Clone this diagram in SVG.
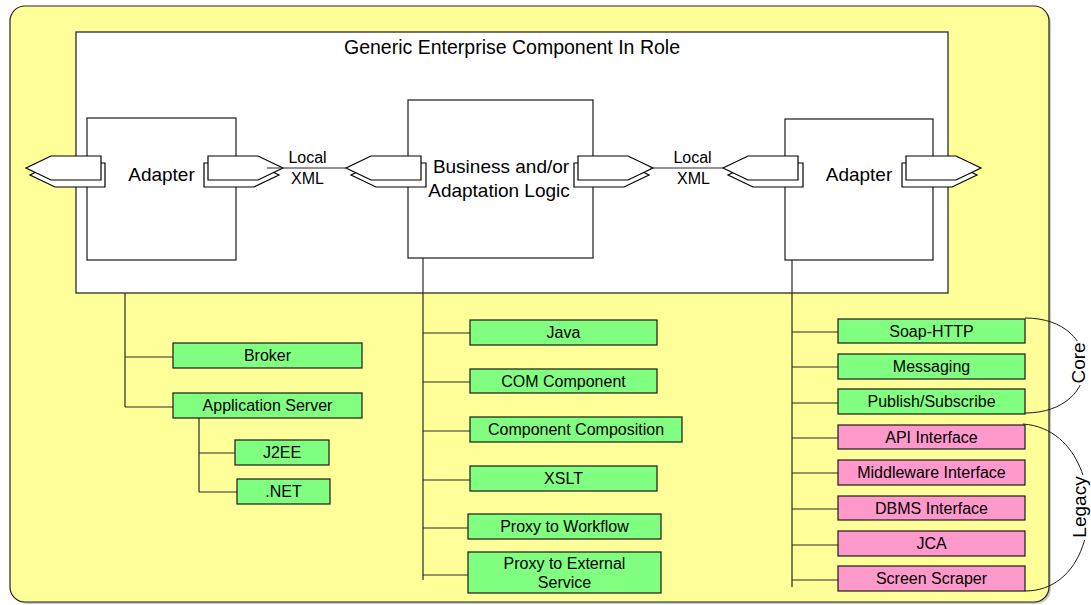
<svg xmlns="http://www.w3.org/2000/svg" width="1091" height="605" viewBox="0 0 1091 605">
  <style>
    text { font-family: "Liberation Sans", Arial, sans-serif; fill: #000; }
    .lbl { font-size: 16px; text-anchor: middle; }
    .big { font-size: 19px; text-anchor: middle; }
    .box { stroke: #1a1a1a; stroke-width: 1.2; }
    .green { fill: #80FF80; }
    .pink { fill: #FF99CC; }
    .white { fill: #fff; stroke: #1a1a1a; stroke-width: 1.2; }
    .port { fill: #fff; stroke: #000; stroke-width: 1.2; stroke-linejoin: miter; }
    .wire { stroke: #2a2a2a; stroke-width: 1.2; fill: none; }
    .brace { stroke: #1a1a1a; stroke-width: 1; fill: none; }
  </style>
  <defs>
    <!-- socket shapes: pointing right / pointing left -->
    <path id="portR" d="M0,0 H50 L75,12 L50,24 H0 Z"/>
    <path id="portL" d="M75,0 H25 L0,12 L25,24 H75 Z"/>
  </defs>

  <!-- background panel -->
  <rect x="12" y="8" width="1039" height="596" rx="15" fill="#c8c8c8"/>
  <rect x="10" y="6" width="1039" height="596" rx="15" fill="#FFFF99" stroke="#222" stroke-width="1.2"/>

  <!-- enclosing component -->
  <g id="component">
    <rect class="white" x="76" y="32" width="872" height="261"/>
    <text x="512" y="54" style="font-size:19.5px;text-anchor:middle">Generic Enterprise Component In Role</text>
  </g>

  <!-- connectors -->
  <g id="connectors">
    <!-- left adapter tree -->
    <path class="wire" d="M125,293 V407 M125,357 H173 M125,407 H173"/>
    <path class="wire" d="M199,418 V492 M199,453 H235 M199,492 H237"/>
    <!-- logic tree -->
    <path class="wire" d="M423,258 V580 M423,333 H470 M423,382 H470 M423,431 H470 M423,480 H470 M423,528 H468 M423,575 H468"/>
    <!-- right adapter tree -->
    <path class="wire" d="M792,260 V587 M792,332 H838 M792,367 H838 M792,403 H838 M792,438 H838 M792,473 H838 M792,509 H838 M792,545 H838 M792,580 H838"/>
    <!-- group braces -->
    <path class="brace" d="M1025,318 C1105,318 1105,413 1025,413"/>
    <path class="brace" d="M1023,424 C1110,430 1110,591 1025,591"/>
  </g>

  <g id="adapter-left">
    <rect class="white" x="87" y="118" width="149" height="142"/>
    <use href="#portL" class="port" transform="translate(30,163)"/>
    <use href="#portL" class="port" transform="translate(26,156)"/>
    <use href="#portR" class="port" transform="translate(204,163)"/>
    <use href="#portR" class="port" transform="translate(208,156)"/>
    <text class="big" x="161.5" y="181">Adapter</text>
  </g>

  <g id="logic">
    <rect class="white" x="408" y="100" width="185" height="158"/>
    <use href="#portL" class="port" transform="translate(351,163)"/>
    <use href="#portL" class="port" transform="translate(346,156)"/>
    <use href="#portR" class="port" transform="translate(574,163)"/>
    <use href="#portR" class="port" transform="translate(578,156)"/>
    <text class="big" x="501" y="173">Business and/or</text>
    <text class="big" x="499" y="197">Adaptation Logic</text>
  </g>

  <g id="adapter-right">
    <rect class="white" x="785" y="119" width="148" height="141"/>
    <use href="#portL" class="port" transform="translate(728,163)"/>
    <use href="#portL" class="port" transform="translate(723,156)"/>
    <use href="#portR" class="port" transform="translate(902,163)"/>
    <use href="#portR" class="port" transform="translate(906,156)"/>
    <text class="big" x="859" y="181">Adapter</text>
  </g>

  <!-- local XML links -->
  <g id="links">
    <path class="wire" d="M267,168 H346 M650,168 H723" stroke="#000"/>
    <text class="lbl" x="307.5" y="163">Local</text>
    <text class="lbl" x="307.5" y="184">XML</text>
    <text class="lbl" x="692.5" y="163">Local</text>
    <text class="lbl" x="693.5" y="184">XML</text>
  </g>

  <g id="broker"><rect class="box green" x="173" y="343" width="189" height="25"/><text class="lbl" x="267.5" y="361">Broker</text></g>
  <g id="app-server"><rect class="box green" x="173" y="393" width="189" height="25"/><text class="lbl" x="267.5" y="411">Application Server</text></g>
  <g id="j2ee"><rect class="box green" x="235" y="440" width="94" height="25"/><text class="lbl" x="282" y="458">J2EE</text></g>
  <g id="dotnet"><rect class="box green" x="237" y="479" width="93" height="25"/><text class="lbl" x="283.5" y="497">.NET</text></g>

  <g id="java"><rect class="box green" x="470" y="320" width="187" height="25"/><text class="lbl" x="563.5" y="338">Java</text></g>
  <g id="com"><rect class="box green" x="470" y="369" width="187" height="24"/><text class="lbl" x="563.5" y="386.5">COM Component</text></g>
  <g id="composition"><rect class="box green" x="470" y="417" width="212" height="25"/><text class="lbl" x="576" y="435">Component Composition</text></g>
  <g id="xslt"><rect class="box green" x="470" y="466" width="187" height="25"/><text class="lbl" x="563.5" y="484">XSLT</text></g>
  <g id="proxy-workflow"><rect class="box green" x="468" y="514" width="193" height="25"/><text class="lbl" x="564.5" y="532">Proxy to Workflow</text></g>
  <g id="proxy-external"><rect class="box green" x="468" y="552" width="193" height="41"/><text class="lbl" x="564.5" y="569">Proxy to External</text><text class="lbl" x="564.5" y="588">Service</text></g>

  <g id="soap"><rect class="box green" x="838" y="319" width="187" height="24"/><text class="lbl" x="931.5" y="336.5">Soap-HTTP</text></g>
  <g id="messaging"><rect class="box green" x="838" y="354" width="187" height="25"/><text class="lbl" x="931.5" y="372">Messaging</text></g>
  <g id="pubsub"><rect class="box green" x="838" y="389" width="187" height="25"/><text class="lbl" x="931.5" y="407">Publish/Subscribe</text></g>
  <g id="api"><rect class="box pink" x="838" y="425" width="187" height="24"/><text class="lbl" x="931.5" y="442.5">API Interface</text></g>
  <g id="middleware"><rect class="box pink" x="838" y="460" width="187" height="25"/><text class="lbl" x="931.5" y="478">Middleware Interface</text></g>
  <g id="dbms"><rect class="box pink" x="838" y="496" width="187" height="24"/><text class="lbl" x="931.5" y="513.5">DBMS Interface</text></g>
  <g id="jca"><rect class="box pink" x="838" y="531" width="187" height="25"/><text class="lbl" x="931.5" y="549">JCA</text></g>
  <g id="scraper"><rect class="box pink" x="838" y="566" width="187" height="25"/><text class="lbl" x="931.5" y="584">Screen Scraper</text></g>

  <!-- group labels -->
  <g id="core-label">
    <rect x="1068" y="341" width="22" height="44" fill="#fff"/>
    <text class="big" transform="translate(1085,363) rotate(-90)">Core</text>
  </g>
  <g id="legacy-label">
    <rect x="1068" y="475" width="22" height="65" fill="#fff"/>
    <text class="big" transform="translate(1086,507) rotate(-90)">Legacy</text>
  </g>
</svg>
